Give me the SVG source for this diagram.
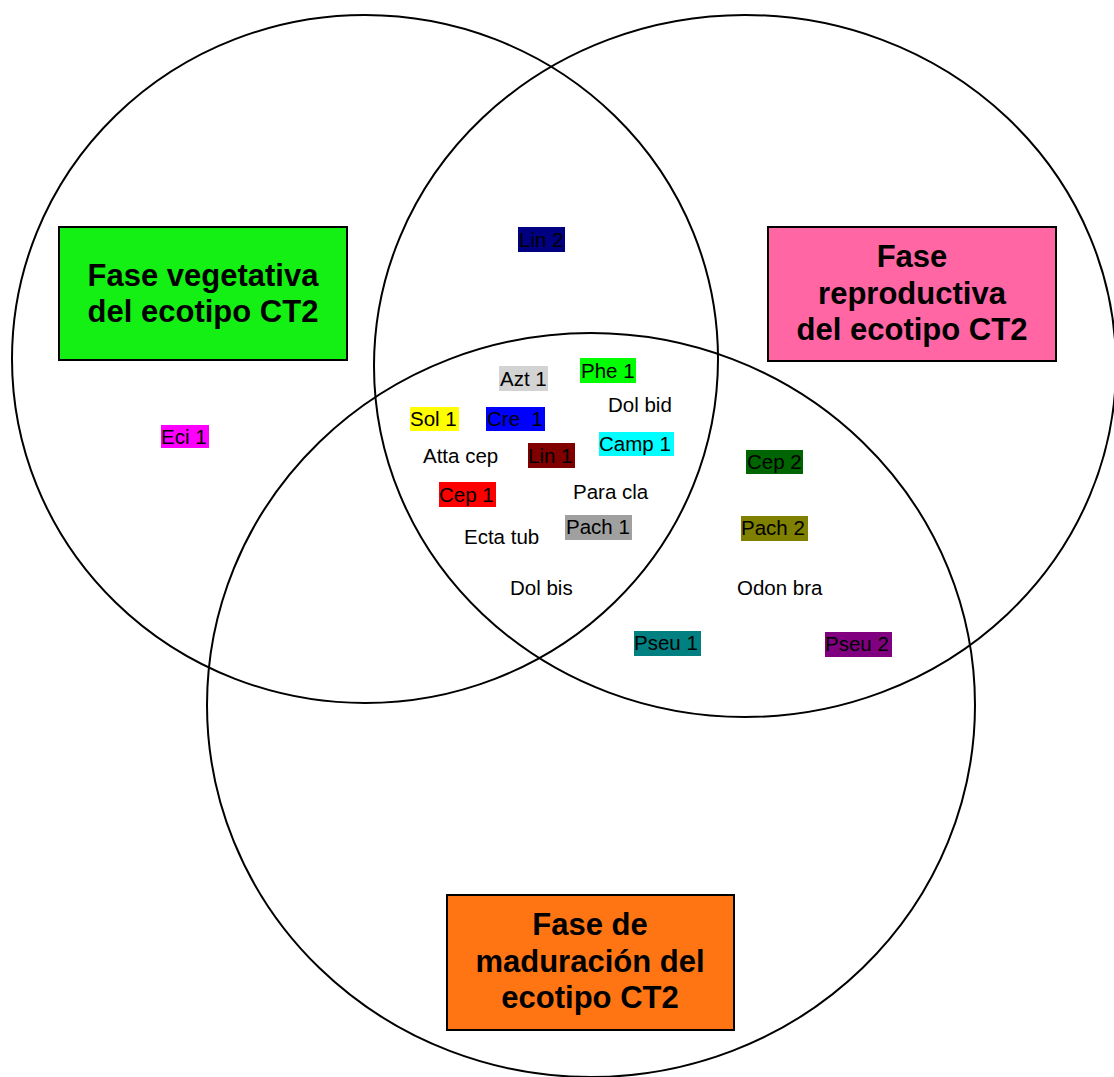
<svg xmlns="http://www.w3.org/2000/svg" width="1114" height="1077" viewBox="0 0 1114 1077">
<style>
.ring{fill:none;stroke:#000;stroke-width:2}
.big{stroke:#000;stroke-width:2}
.bt{font-family:"Liberation Sans",Arial,sans-serif;font-weight:bold;font-size:31px;fill:#000;text-anchor:middle}
.lt{font-family:"Liberation Sans",Arial,sans-serif;font-size:20.5px;fill:#000}
</style>
<rect width="1114" height="1077" fill="#fff"/>
<g id="connectors">
<ellipse id="circle-vegetativa" class="ring" cx="365" cy="359" rx="353" ry="344"/>
<ellipse id="circle-reproductiva" class="ring" cx="745" cy="366" rx="371" ry="351"/>
<ellipse id="circle-maduracion" class="ring" cx="591" cy="705" rx="384" ry="372"/>
</g>
<g id="fase-vegetativa">
<rect class="big" x="59" y="227" width="288" height="133" fill="#14f014"/>
<text class="bt" x="203" y="286">Fase vegetativa</text>
<text class="bt" x="203" y="322">del ecotipo CT2</text>
</g>
<g id="fase-reproductiva">
<rect class="big" x="768" y="227" width="288" height="134" fill="#ff66a3"/>
<text class="bt" x="912" y="267">Fase</text>
<text class="bt" x="912" y="304">reproductiva</text>
<text class="bt" x="912" y="340">del ecotipo CT2</text>
</g>
<g id="fase-maduracion">
<rect class="big" x="447" y="895" width="287" height="135" fill="#ff7514"/>
<text class="bt" x="590" y="935">Fase de</text>
<text class="bt" x="590" y="972">maduración del</text>
<text class="bt" x="590" y="1008">ecotipo CT2</text>
</g>
<g id="lin2"><rect x="518" y="227" width="47" height="25" fill="#000080"/><text class="lt" x="519" y="247">Lin 2</text></g>
<g id="azt1"><rect x="499" y="366" width="49" height="25" fill="#d3d3d3"/><text class="lt" x="500" y="386">Azt 1</text></g>
<g id="phe1"><rect x="580" y="358" width="56" height="25" fill="#00ff00"/><text class="lt" x="581" y="378">Phe 1</text></g>
<g id="dolbid"><text class="lt" x="608" y="412">Dol bid</text></g>
<g id="sol1"><rect x="410" y="407" width="49" height="24" fill="#ffff00"/><text class="lt" x="410" y="426">Sol 1</text></g>
<g id="cre1"><rect x="486" y="407" width="59" height="24" fill="#0000ff"/><text class="lt" x="487" y="426" xml:space="preserve">Cre  1</text></g>
<g id="camp1"><rect x="599" y="432" width="75" height="24" fill="#00ffff"/><text class="lt" x="599" y="451">Camp 1</text></g>
<g id="attacep"><text class="lt" x="423" y="463">Atta cep</text></g>
<g id="lin1"><rect x="528" y="443" width="47" height="25" fill="#800000"/><text class="lt" x="528" y="463">Lin 1</text></g>
<g id="cep1"><rect x="439" y="482" width="57" height="25" fill="#ff0000"/><text class="lt" x="439" y="502">Cep 1</text></g>
<g id="paracla"><text class="lt" x="573" y="499">Para cla</text></g>
<g id="pach1"><rect x="565" y="515" width="67" height="25" fill="#a0a0a0"/><text class="lt" x="566" y="534">Pach 1</text></g>
<g id="ectatub"><text class="lt" x="464" y="544">Ecta tub</text></g>
<g id="dolbis"><text class="lt" x="510" y="595">Dol bis</text></g>
<g id="eci1"><rect x="161" y="425" width="48" height="23" fill="#ff00ff"/><text class="lt" x="161" y="444">Eci 1</text></g>
<g id="cep2"><rect x="746" y="450" width="57" height="24" fill="#006400"/><text class="lt" x="747" y="469">Cep 2</text></g>
<g id="pach2"><rect x="741" y="516" width="67" height="25" fill="#808000"/><text class="lt" x="741" y="535">Pach 2</text></g>
<g id="odonbra"><text class="lt" x="737" y="595">Odon bra</text></g>
<g id="pseu1"><rect x="634" y="631" width="67" height="25" fill="#008080"/><text class="lt" x="634" y="650">Pseu 1</text></g>
<g id="pseu2"><rect x="825" y="632" width="67" height="25" fill="#800080"/><text class="lt" x="825" y="651">Pseu 2</text></g>
</svg>
